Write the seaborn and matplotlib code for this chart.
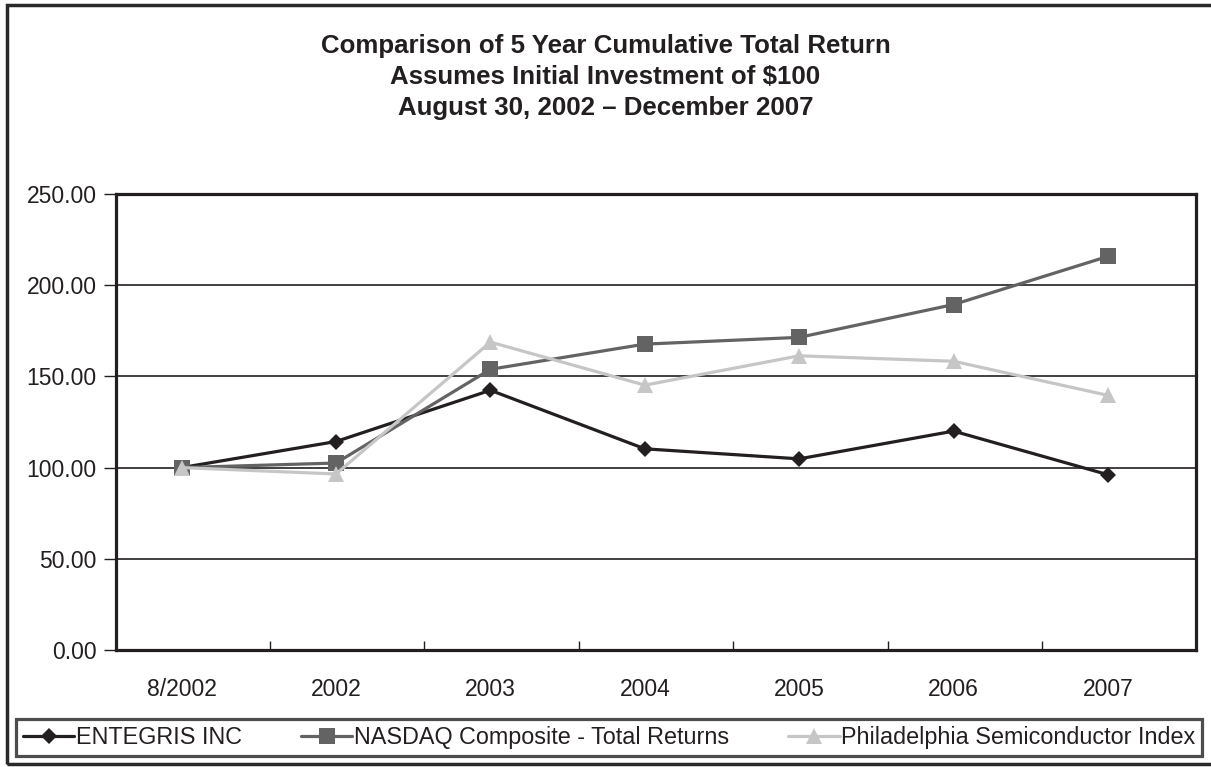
import numpy as np
import pandas as pd
import matplotlib
matplotlib.use("Agg")
import matplotlib.pyplot as plt
from matplotlib.patches import Rectangle
import seaborn as sns

# ---- data ----
periods = ["8/2002", "2002", "2003", "2004", "2005", "2006", "2007"]
series_names = ["ENTEGRIS INC", "NASDAQ Composite - Total Returns",
                "Philadelphia Semiconductor Index"]
entegris = [100.0, 114.3, 142.4, 110.3, 104.8, 120.0, 96.1]
nasdaq = [100.0, 102.5, 153.9, 167.7, 171.4, 189.4, 215.8]
phlx = [100.0, 96.5, 168.8, 145.2, 161.3, 158.3, 139.6]
y_ticks = [0, 50, 100, 150, 200, 250]
title_lines = ["Comparison of 5 Year Cumulative Total Return",
               "Assumes Initial Investment of $100",
               "August 30, 2002 \u2013 December 2007"]

colors = ["#231f20", "#636363", "#c6c6c6"]
markers = ["D", "s", "^"]
msizes = [8.5, 11, 11]

sns.set_theme(style="white")
plt.rcParams["font.family"] = ["Liberation Sans", "DejaVu Sans"]

rows = []
for name, vals in zip(series_names, [entegris, nasdaq, phlx]):
    for i, (p, v) in enumerate(zip(periods, vals)):
        rows.append({"series": name, "pos": i, "period": p, "value": v})
df = pd.DataFrame(rows)

fig = plt.figure(figsize=(12.11, 7.67), dpi=100)
ax = fig.add_axes([116 / 1211, 1 - 650 / 767, (1196 - 116) / 1211, (650 - 194) / 767])

for name, c, m, ms in zip(series_names, colors, markers, msizes):
    sub = df[df["series"] == name]
    sns.lineplot(data=sub, x="pos", y="value", ax=ax, color=c, marker=m,
                 markersize=ms, markeredgewidth=0, linewidth=2.3,
                 errorbar=None, sort=False, legend=False, label=name)

ax.set_xlim(-0.425, 6.57)
ax.set_ylim(0, 250)
ax.set_yticks(y_ticks)
ax.set_yticklabels([f"{t:.2f}" for t in y_ticks])
ax.set_xticks(range(len(periods)))
ax.set_xticklabels(periods)
ax.set_xticks([i + 0.572 for i in range(len(periods) - 1)], minor=True)
ax.tick_params(axis="x", which="major", length=0, pad=20, labelsize=16.5, colors="#231f20")
ax.tick_params(axis="x", which="minor", direction="in", length=6.5, width=1.0,
               color="#231f20", bottom=True)
ax.tick_params(axis="y", which="major", direction="out", length=9, width=1.0,
               pad=5, labelsize=16.5, color="#231f20", labelcolor="#231f20", left=True)
ax.set_xlabel("")
ax.set_ylabel("")

for t in [50, 100, 150, 200]:
    ax.axhline(t, color="#231f20", linewidth=1.2, zorder=0.5)

for s in ax.spines.values():
    s.set_visible(True)
    s.set_color("#231f20")
    s.set_linewidth(2.3)

# title
for k, line in enumerate(title_lines):
    fig.text(0.5, 1 - (46 + 31 * k) / 767, line, ha="center", va="center",
             fontsize=18.6, fontweight="bold", color="#231f20")

# legend
handles = ax.get_lines()[:3]
leg = fig.legend(handles=handles, labels=series_names, loc="lower left",
                 bbox_to_anchor=(16 / 1211, 1 - 756 / 767, (1202 - 16) / 1211, 38 / 767),
                 mode="expand", ncol=3, fontsize=16.8, frameon=True, fancybox=False,
                 borderpad=0.3, borderaxespad=0, handlelength=2.2, handletextpad=0.05,
                 labelcolor="#231f20")
leg.get_frame().set_edgecolor("#231f20")
leg.get_frame().set_linewidth(2.3)
leg.get_frame().set_boxstyle("square", pad=0)

# figure border
fig.patches.append(Rectangle((7 / 1211, 1 - 764 / 767), 1.2, (764 - 5) / 767,
                             transform=fig.transFigure, fill=False,
                             edgecolor="#2a2a2a", linewidth=2.5, clip_on=False))

fig.savefig("out.png", dpi=100)
